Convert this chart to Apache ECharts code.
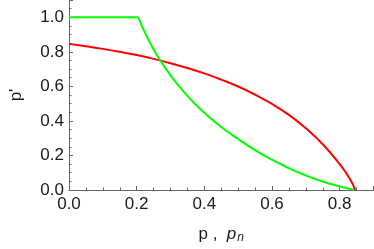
<!DOCTYPE html>
<html><head><meta charset="utf-8">
<script src="https://cdn.jsdelivr.net/npm/echarts@6/dist/echarts.min.js"></script>
<style>html,body{margin:0;padding:0;background:#fff}#c{width:374px;height:249px}</style>
</head><body><div id="c"></div>
<script>
var redX = [0, 0.05, 0.1, 0.15, 0.2, 0.25, 0.3, 0.35, 0.4, 0.45, 0.5, 0.55, 0.6, 0.65, 0.7, 0.75, 0.8, 0.83, 0.846];
var redY = [0.846, 0.832, 0.817, 0.8, 0.781, 0.759, 0.734, 0.706, 0.675, 0.639, 0.599, 0.552, 0.498, 0.435, 0.358, 0.265, 0.15, 0.065, 0];
var greenFlatX = [0, 0.205];
var greenFlatY = [1, 1];
var greenX = [0.205, 0.22, 0.24, 0.26, 0.28, 0.3, 0.325, 0.35, 0.375, 0.4, 0.45, 0.5, 0.55, 0.6, 0.65, 0.7, 0.75, 0.8, 0.843];
var greenY = [1, 0.93, 0.85, 0.78, 0.72, 0.664, 0.602, 0.545, 0.494, 0.447, 0.365, 0.295, 0.231, 0.175, 0.126, 0.084, 0.049, 0.021, 0];
var xTicks = [0, 0.2, 0.4, 0.6, 0.8];
var yTicks = [0, 0.2, 0.4, 0.6, 0.8, 1.0];

function pairs(xs, ys){ return xs.map(function(x,i){return [x, ys[i]];}); }
var font = 'Liberation Sans, Arial, sans-serif';
var axisCol = '#666';
var chart = echarts.init(document.getElementById('c'));
chart.setOption({
  animation: false,
  grid: {left: 58.5, right: 0.5, top: 0, bottom: 54.3},
  xAxis: {
    type: 'value', min: 0, max: 0.9, interval: 0.2,
    axisLine: {show: true, onZero: false, lineStyle: {color: axisCol, width: 1}},
    axisTick: {show: true, inside: true, length: 4, lineStyle: {color: axisCol}},
    minorTick: {show: true, splitNumber: 4, length: 2.5, lineStyle: {color: axisCol}},
    splitLine: {show: false},
    axisLabel: {margin: 6, fontSize: 17, color: '#1a1a1a', fontFamily: font, showMaxLabel: false,
      formatter: function(v){ return xTicks.some(function(t){return Math.abs(t-v)<1e-9;}) ? v.toFixed(1) : ''; }},
    name: '{a|p ,  }{b|p}{c|n}', nameLocation: 'middle', nameGap: 34,
    nameTextStyle: {rich: {
      a: {fontSize: 17, fontFamily: font, color: '#1a1a1a', lineHeight: 20},
      b: {fontSize: 17, fontFamily: font, fontStyle: 'italic', color: '#1a1a1a', lineHeight: 20},
      c: {fontSize: 12, fontFamily: font, fontStyle: 'italic', color: '#1a1a1a', lineHeight: 20, verticalAlign: 'bottom', padding: [0,0,0,1]}
    }}
  },
  yAxis: {
    type: 'value', min: 0, max: 1.1, interval: 0.2,
    axisLine: {show: true, onZero: false, lineStyle: {color: axisCol, width: 1}},
    axisTick: {show: true, inside: true, length: 4, lineStyle: {color: axisCol}},
    minorTick: {show: true, splitNumber: 4, length: 2.5, lineStyle: {color: axisCol}},
    splitLine: {show: false},
    axisLabel: {margin: 5, fontSize: 17, color: '#1a1a1a', fontFamily: font, showMaxLabel: false,
      formatter: function(v){ return yTicks.some(function(t){return Math.abs(t-v)<1e-9;}) ? v.toFixed(1) : ''; }},
    name: "p'", nameLocation: 'middle', nameGap: 44, nameRotate: 90,
    nameTextStyle: {fontSize: 17, fontFamily: font, color: '#1a1a1a'}
  },
  series: [
    {type: 'line', data: pairs(redX, redY), showSymbol: false, smooth: 0.5,
     lineStyle: {color: '#ff0000', width: 2}, clip: false},
    {type: 'line', data: pairs(greenFlatX, greenFlatY), showSymbol: false,
     lineStyle: {color: '#00ff00', width: 2}, clip: false},
    {type: 'line', data: pairs(greenX, greenY), showSymbol: false, smooth: 0.5,
     lineStyle: {color: '#00ff00', width: 2}, clip: false}
  ]
});
</script></body></html>
